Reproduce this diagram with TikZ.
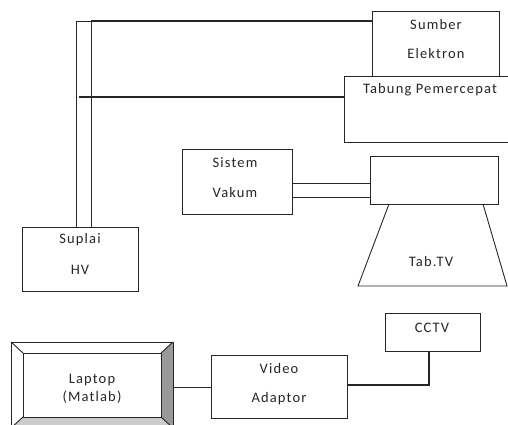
\documentclass[tikz,border=0pt]{standalone}
\usepackage{fontspec}
\setmainfont{Carlito}[LetterSpace=8]
\begin{document}
\begin{tikzpicture}[x=1pt,y=-1pt,
  box/.style={draw=black!85,line width=0.9pt,fill=white},
  wire/.style={draw=black!85,line width=0.9pt},
  thick wire/.style={draw=black!85,line width=1.4pt},
  lbl/.style={font=\fontsize{14.5}{16}\selectfont,text=black!85,inner sep=0pt}]
\useasboundingbox (0,0) rectangle (508,425);
% double line from Suplai HV
\coordinate (vo) at (76,21);
\coordinate (vi) at (91,21);
\draw[wire] (76,227) -- (vo) -- (vi) -- (91,227);
% boxes
\node[box,minimum width=127pt,minimum height=66pt,anchor=north west] (se) at (372,11) {};
\node[lbl] at (436,25) {Sumber};
\node[lbl] at (436,54) {Elektron};
\node[box,minimum width=170pt,minimum height=66pt,anchor=north west] (tp) at (344,76) {};
\node[lbl] at (430,90) {Tabung Pemercepat};
\draw[thick wire] (vi) -- (se.west |- vi);
\draw[thick wire] (79,97) -- (tp.west |- 79,97);
\node[box,minimum width=110pt,minimum height=65pt,anchor=north west] (sv) at (182,149) {};
\node[lbl] at (235,163) {Sistem};
\node[lbl] at (235,193) {Vakum};
\node[box,minimum width=128pt,minimum height=48pt,anchor=north west] (tv) at (370,156) {};
\draw[wire] (sv.east |- 0,183) -- (tv.west |- 0,183);
\draw[wire] (sv.east |- 0,197) -- (tv.west |- 0,197);
\draw[wire] (389,204) -- (358,286) -- (507,286) -- (483,204);
\node[lbl] (ttv) at (431,262) {Tab.TV};
\node[box,minimum width=116pt,minimum height=64pt,anchor=north west] (hv) at (22,227) {};
\node[lbl] at (80,240) {Suplai};
\node[lbl] at (80,270) {HV};
% bottom
\node[box,minimum width=95pt,minimum height=38pt,anchor=north west] (cctv) at (385,313) {};
\node[lbl] at (432,328) {CCTV};
\node[box,minimum width=136pt,minimum height=63pt,anchor=north west] (va) at (211,355) {};
\node[lbl] at (279,369) {Video};
\node[lbl] at (279,399) {Adaptor};
\draw[thick wire] (va.east |- 0,385) -| (cctv.south -| 429,0);
% laptop bevel
\fill[white] (11,342) rectangle (173,428);
\fill[black!40] (173,342) -- (161,353) -- (161,417) -- (173,428) -- cycle;
\fill[black!20] (11,428) -- (23,417) -- (161,417) -- (173,428) -- cycle;
\draw[wire] (11,342) -- (23,353) (173,342) -- (161,353) (11,428) -- (23,417) (173,428) -- (161,417);
\draw[wire] (11,342) rectangle (173,428);
\node[box,minimum width=138pt,minimum height=64pt,anchor=north west] (lp) at (23,353) {};
\node[lbl] at (92,380) {Laptop};
\node[lbl] at (92,397) {(Matlab)};
\draw[wire] (173,387) -- (va.west |- 0,387);
\end{tikzpicture}
\end{document}
